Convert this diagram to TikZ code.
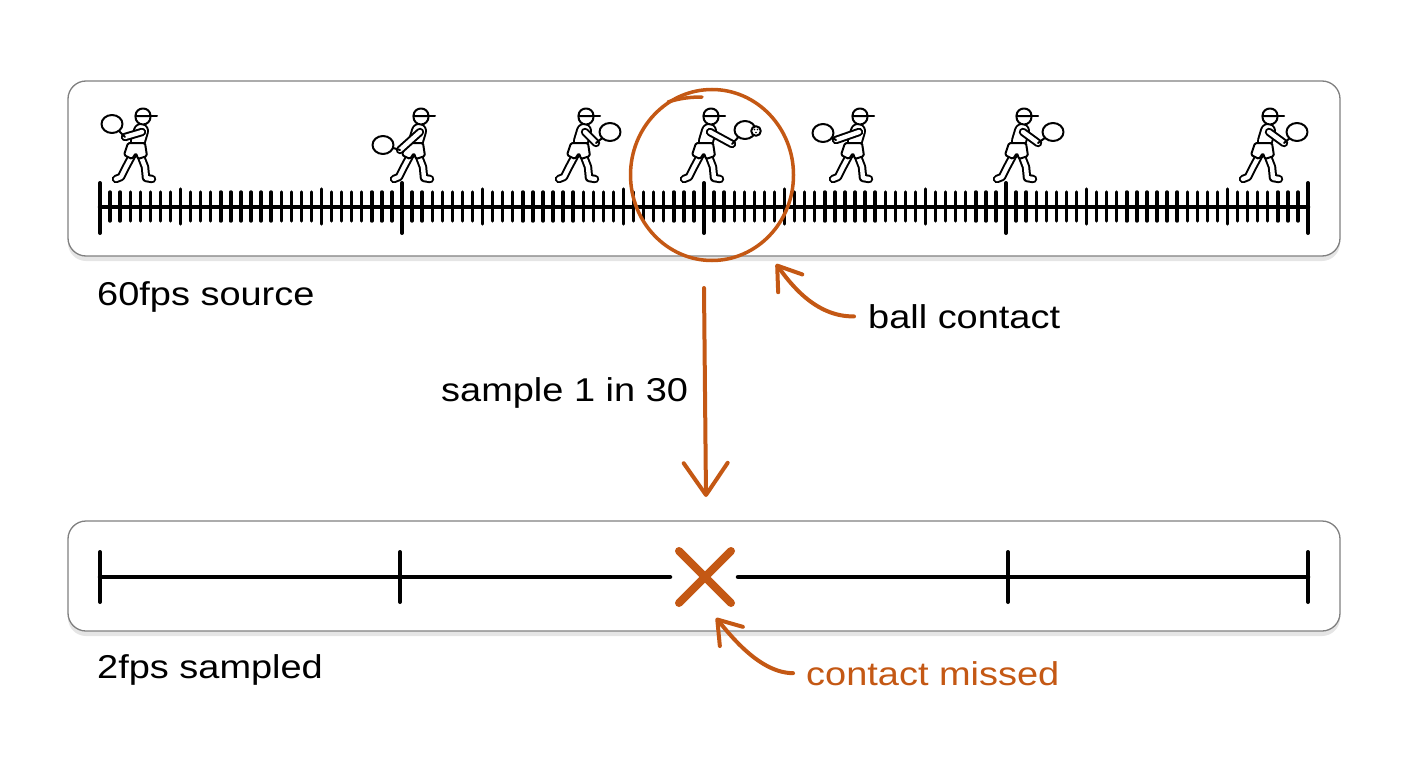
\documentclass[tikz,border=0pt]{standalone}
\usepackage{fontspec}
\setmainfont{Liberation Sans}[FakeStretch=1.15]
\usepackage{xcolor}
\usepackage{tikz}
\usetikzlibrary{shapes.geometric, shapes.misc, arrows.meta, calc, shadows}
\definecolor{hitorange}{RGB}{196,88,20}
\definecolor{panelgray}{RGB}{128,128,128}

\tikzset{
  panel/.style={draw=panelgray, line width=1.3, rounded corners=18, fill=white, minimum width=1272, inner sep=0,
    drop shadow={opacity=0.2, shadow xshift=0pt, shadow yshift=-5pt}},
  lbl/.style={font=\fontsize{33}{40}\selectfont, inner sep=0, anchor=base west},
  rulerline/.style={line width=4.5, line cap=round},
  tick/.style={line width=3.4, line cap=round},
  majortick/.style={line width=4, line cap=round},
  pointer/.style={draw=hitorange, line width=4, line cap=round, -{Straight Barb[length=22pt, width=30pt, round]}},
  figline/.style={line width=2, line join=round, line cap=round},
  limb/.style={line width=2, double=white, double distance=4.4, line cap=round, line join=round},
  pics/player/.style n args={4}{code={
    \draw[limb] (-2,-27) -- (-9,-14) -- (-14,-4) -- (-19,-2);
    \draw[limb] (5,-27) -- (10,-14) -- (11,-3) -- (17,-2);
    \draw[limb, double distance=12] (6,-50) -- (3,-40);
    \draw[figline, fill=white, rounded corners=1.5] (-7,-38) -- (10,-38) -- (12,-25) -- (3,-22) -- (1,-28) -- (-3,-22) -- (-11,-26) -- cycle;
    \draw[limb] (7,-49) -- (#1,#2);
    \draw[figline] (#1,#2) -- (#3,#4);
    \draw[figline, fill=white] (#3,#4) ellipse (10.5 and 9);
    \draw[figline, fill=white] (8,-64) circle (7.5);
    \draw[figline, fill=white] (0.5,-65) .. controls (0.5,-75) and (15.5,-75) .. (15.5,-65) -- cycle;
    \draw[figline] (15.5,-65) -- (22,-65);
  }}
}

\begin{document}
\begin{tikzpicture}[x=1pt, y=-1pt]
    \fill[white] (0,0) rectangle (1408,768);
    \useasboundingbox (0,0) rectangle (1408,768);

    % panels
    \node[panel, minimum height=175] (src) at (704,168.5) {};
    \node[panel, minimum height=110] (smp) at (704,576) {};

    % 60fps ruler
    \draw[rulerline] (100,207) -- (1308,207);
    \foreach \i in {1,...,119}
        \draw[tick] ({100+\i*10.0667},192) -- ++(0,29);
    \foreach \i in {8,22,38,52,68,82,98,112}
        \draw[tick] ({100+\i*10.0667},189) -- ++(0,35);
    \foreach \x in {100,402,704,1006,1308}
        \draw[majortick] (\x,183) -- (\x,233);

    % players
    \pic at (135,181) {player={-10}{-44}{-23}{-57}};
    \pic at (413,181) {player={-13}{-31}{-30}{-36}};
    \pic at (578,181) {player={18}{-38}{32}{-49}};
    \pic at (703,181) {player={29}{-37}{42}{-51}};
    \pic at (852,181) {player={-16}{-41}{-29}{-48}};
    \pic at (1016,181) {player={22}{-38}{37}{-49}};
    \pic at (1262,181) {player={22}{-38}{35}{-49}};
    \draw[figline, fill=white] (756,131) circle (4.8);
    \fill (754.5,129.5) circle (0.8) (757.5,129.5) circle (0.8) (756,132.5) circle (0.8);

    % ball contact
    \node[ellipse, draw=hitorange, line width=3.5, minimum width=163, minimum height=171, inner sep=0] (hit) at (712,175) {};
    \draw[hitorange, line width=3.5, line cap=round] (668,102) .. controls (680,98) and (692,97) .. (702,97);
    \coordinate (bctip) at (776,264);

    % 2fps ruler
    \draw[rulerline] (100,577) -- (670,577);
    \draw[rulerline] (738,577) -- (1308,577);
    \foreach \x in {100,400,1008,1308}
        \draw[majortick] (\x,552) -- (\x,602);
    \node[cross out, draw=hitorange, line width=8, line cap=round, minimum size=44, inner sep=0] (miss) at (705,577) {};
    \coordinate (misstip) at (716,618);

    % labels
    \node[lbl] (srclbl) at (97,305) {60fps source};
    \node[lbl] (bc) at (868,328) {ball contact};
    \node[lbl] (sample) at (441,401) {sample 1 in 30};
    \node[lbl] (smplbl) at (97,678) {2fps sampled};
    \node[lbl, text=hitorange] (cm) at (806,685) {contact missed};

    % arrows
    \coordinate (down1) at (704,288);
    \coordinate (down2) at (706,497);
    \draw[pointer, -{Straight Barb[length=32pt, width=44pt, round]}] (down1) -- (down2);
    \draw[pointer, shorten <=14] (bc.west) .. controls (815,317) and (790,283) .. (bctip);
    \draw[pointer, shorten <=13] (cm.west) .. controls (760,673) and (731,636) .. (misstip);
\end{tikzpicture}
\end{document}
